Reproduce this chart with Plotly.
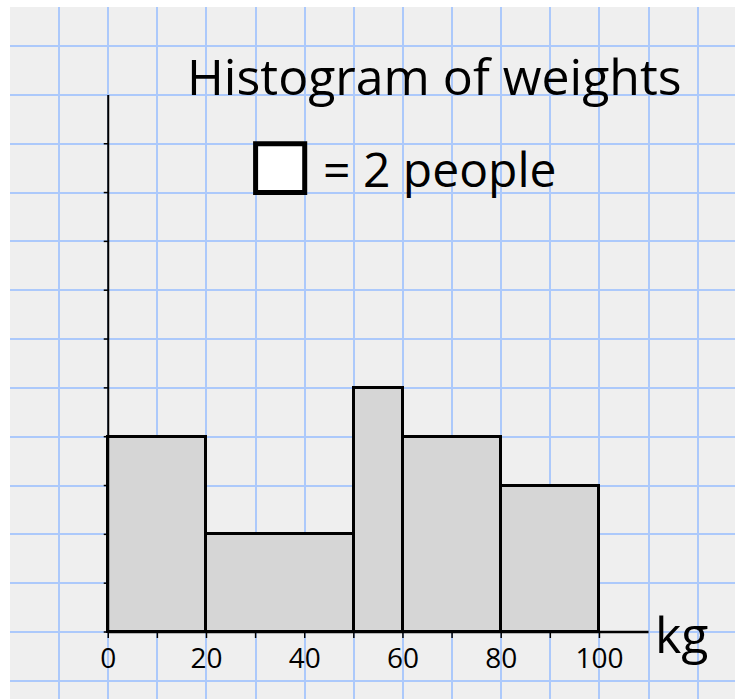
import plotly.graph_objects as go

# Data
bin_edges = [0, 20, 50, 60, 80, 100]
people = [16, 12, 10, 16, 12]
people_per_square = 2
square_width = 10  # kg per grid square
x_tick_vals = [0, 10, 20, 30, 40, 50, 60, 70, 80, 90, 100]
x_tick_labels = ["0", "", "20", "", "40", "", "60", "", "80", "", "100"]
y_tick_vals = [0, 1, 2, 3, 4, 5, 6, 7, 8, 9, 10]
x_axis_end = 110
y_axis_end = 11

title_text = "Histogram of weights"
key_text = "= 2 people"
unit_text = "kg"

FONT = "Comic Sans MS, Open Sans, sans-serif"

lefts = bin_edges[:-1]
widths = [b - a for a, b in zip(bin_edges[:-1], bin_edges[1:])]
mids = [a + w / 2 for a, w in zip(lefts, widths)]
heights = [p / people_per_square / (w / square_width) for p, w in zip(people, widths)]

W, H = 735, 699
ml, mr, mt, mb = 10, 0, 7, 0
xr = [-20, 127.6]
yr = [-1.372, 12.80]
px_x = (W - ml - mr) / (xr[1] - xr[0])
px_y = (H - mt - mb) / (yr[1] - yr[0])
xtick_len = 6 / px_y
ytick_len = 4.5 / px_x

fig = go.Figure()

fig.add_trace(go.Bar(
    x=mids, y=heights, width=widths,
    marker=dict(color="#d6d6d6", line=dict(color="black", width=3)),
    hoverinfo="skip", showlegend=False,
))

# axis tick marks
tx, ty = [], []
for v in x_tick_vals:
    tx += [v, v, None]
    ty += [0, -xtick_len, None]
for v in y_tick_vals:
    tx += [0, -ytick_len, None]
    ty += [v, v, None]
fig.add_trace(go.Scatter(x=tx, y=ty, mode="lines", line=dict(color="black", width=1.5),
                         showlegend=False, hoverinfo="skip"))

# axis lines
fig.add_shape(type="line", x0=0, x1=x_axis_end, y0=0, y1=0,
              line=dict(color="black", width=2.5), layer="above")
fig.add_shape(type="line", x0=0, x1=0, y0=0, y1=y_axis_end,
              line=dict(color="black", width=2), layer="above")

# x tick labels
lab_x = [v for v, t in zip(x_tick_vals, x_tick_labels) if t]
lab_t = [t for t in x_tick_labels if t]
fig.add_trace(go.Scatter(
    x=lab_x, y=[-0.6] * len(lab_x), text=lab_t,
    mode="text", textfont=dict(family=FONT, size=28, color="black"),
    showlegend=False, hoverinfo="skip",
))

# key square (one grid square)
fig.add_shape(type="rect", x0=30, x1=30 + square_width, y0=9, y1=10,
              line=dict(color="black", width=5), fillcolor="white", layer="above")

fig.add_annotation(x=66.5, y=11.38, text=title_text, showarrow=False,
                   font=dict(family=FONT, size=50, color="black"))
fig.add_annotation(x=43.3, y=9.5, text=key_text, showarrow=False, xanchor="left",
                   font=dict(family=FONT, size=48, color="black"))
fig.add_annotation(x=111.0, y=-0.05, text=unit_text, showarrow=False, xanchor="left",
                   font=dict(family=FONT, size=50, color="black"))

grid = "#acc9fb"
fig.update_layout(
    width=W, height=H,
    margin=dict(l=ml, r=mr, t=mt, b=mb, autoexpand=False),
    paper_bgcolor="white", plot_bgcolor="#efefef",
    bargap=0,
    xaxis=dict(range=xr, dtick=10, tick0=0, showgrid=True, gridcolor=grid, gridwidth=2,
               zeroline=False, showticklabels=False, ticks="", showline=False, fixedrange=True),
    yaxis=dict(range=yr, dtick=1, tick0=0, showgrid=True, gridcolor=grid, gridwidth=2,
               zeroline=False, showticklabels=False, ticks="", showline=False, fixedrange=True),
)

fig.write_html("out.html", config={"displayModeBar": False},
               post_script="document.body.style.margin='0';document.body.style.overflow='hidden';")
